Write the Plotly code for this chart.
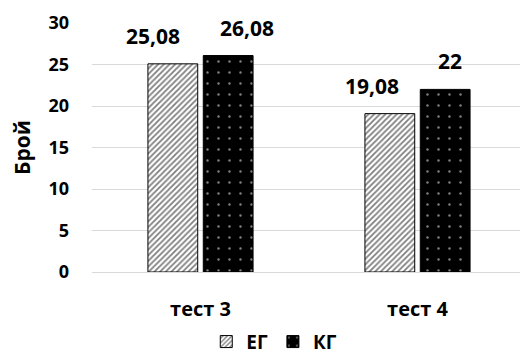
import plotly.graph_objects as go

categories = ["тест 3", "тест 4"]
eg_values = [25.08, 19.08]
kg_values = [26.08, 22]
eg_labels = ["25,08", "19,08"]
kg_labels = ["26,08", "22"]
y_ticks = [0, 5, 10, 15, 20, 25, 30]

# label horizontal offsets (px) from category centre, as placed in the reference
eg_label_shift = [-48, -46]
kg_label_shift = [46, 32]

FONT = "Open Sans"
BOLD = dict(family=FONT, color="#000000", weight="bold")

fig = go.Figure()
fig.add_trace(go.Bar(
    name="ЕГ", x=categories, y=eg_values,
    marker=dict(color="white", line=dict(color="black", width=1),
                pattern=dict(shape="/", fgcolor="black", bgcolor="white", size=4, solidity=0.45)),
))
fig.add_trace(go.Bar(
    name="КГ", x=categories, y=kg_values,
    marker=dict(color="black", line=dict(color="black", width=1),
                pattern=dict(shape=".", fgcolor="white", bgcolor="black", size=11, solidity=0.04)),
))

for vals, labels, shifts in ((eg_values, eg_labels, eg_label_shift), (kg_values, kg_labels, kg_label_shift)):
    for c, v, t, s in zip(categories, vals, labels, shifts):
        fig.add_annotation(x=c, y=v, text=t, showarrow=False, xref="x", yref="y",
                           xanchor="center", yanchor="bottom", xshift=s, yshift=12,
                           font=dict(size=21, **BOLD))

fig.update_layout(
    width=528, height=356,
    margin=dict(l=84, r=10, t=15, b=92, autoexpand=False),
    paper_bgcolor="white", plot_bgcolor="white",
    barmode="group", bargap=0.49, bargroupgap=0.1,
    font=dict(family=FONT, color="#000000"),
    showlegend=True,
    legend=dict(orientation="h", x=0.42, xanchor="center", y=-0.28, yanchor="middle",
                font=dict(size=19, **BOLD), itemwidth=30, traceorder="normal"),
)
fig.update_yaxes(
    range=[0, 30], tickvals=y_ticks, showgrid=True, gridcolor="#d9d9d9", gridwidth=1,
    zeroline=False, showline=False, ticks="",
    tickfont=dict(size=18, **BOLD), ticklabelstandoff=22,
    title=dict(text="Брой", font=dict(size=21, **BOLD), standoff=12),
)
fig.update_xaxes(
    showline=True, linecolor="#d9d9d9", linewidth=1, ticks="",
    tickfont=dict(size=20, **BOLD), ticklabelstandoff=19,
)

fig.write_html("out.html")
